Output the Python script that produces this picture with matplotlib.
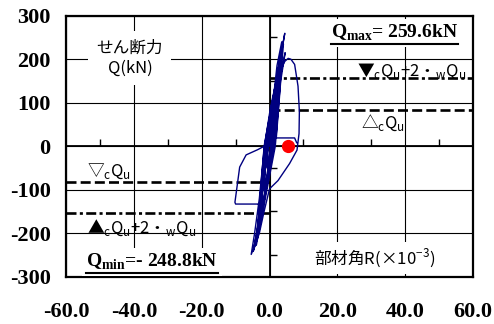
import matplotlib
matplotlib.use("Agg")
import matplotlib.pyplot as plt
from matplotlib.lines import Line2D
from matplotlib.transforms import IdentityTransform

plt.rcParams["axes.unicode_minus"] = False
plt.rcParams["lines.scale_dashes"] = False
plt.rcParams["mathtext.fontset"] = "custom"
plt.rcParams["mathtext.bf"] = "Liberation Serif:bold"
plt.rcParams["mathtext.sf"] = "Noto Sans CJK JP"
plt.rcParams["mathtext.rm"] = "Liberation Serif"

# 部材角 R (x10^-3) と せん断力 Q (kN) の履歴
r_hist = [0.0,
          0.9, 0.4, -0.7, -0.4,
          1.8, 0.8, -1.6, -0.8,
          2.7, 1.1, -2.4, -1.1,
          3.5, 1.4, -3.2, -1.4,
          4.1, 1.7, -3.9, -1.6,
          4.5, 3.2, 1.8, 0.6, -1.2, -3.0, -4.5, -5.4,
          -4.4, -3.0, -1.5, 0.3, 2.0, 3.6, 4.5, 5.5, 6.3, 7.4, 8.4, 8.8, 8.7, 8.1,
          5.9, 2.5, 0.0, -1.6, -3.0, -4.7,
          -3.6, -2.0, -0.4, 1.0, 2.2, 3.6,
          2.5, 1.0, -0.3, -3.5, -6.9, -8.8, -9.8, -10.2, -10.0, -2.5,
          -3.2, -4.2, -4.8, -3.8,
          -2.0, -0.3, 1.5, 3.2, 4.6, 3.3, 2.0, 7.4, 8.0]
q_hist = [0,
          50, 0, -50, 0,
          100, 0, -100, 0,
          150, 0, -150, 0,
          200, 0, -195, 0,
          235, 0, -228, 0,
          259.6, 200, 80, 0, -100, -180, -232, -248.8,
          -200, -120, 0, 90, 150, 180, 195, 202, 200, 188, 138, 80, 29, -9,
          -40, -79, -98, -150, -200, -238,
          -190, -100, 0, 100, 185, 240,
          175, 60, 5, -8, -20, -48, -106, -129, -133, -133,
          -175, -225, -242, -200,
          -90, 20, 90, 160, 215, 150, 19, 19, 8]

q_max = 259.6
q_min = -248.8
final_point = (5.4, 0.0)

# 耐力計算値
cqu_pos, cqu_neg = 83, -83
cqu_wqu_pos, cqu_wqu_neg = 157, -153

x_ticks = [-60, -40, -20, 0, 20, 40, 60]
y_ticks = [-300, -200, -100, 0, 100, 200, 300]
x_minor = [-50, -30, -10, 10, 30, 50]
y_minor = [-250, -150, -50, 50, 150, 250]

fig = plt.figure(figsize=(4.94, 3.24), dpi=100)
ax = fig.add_axes([0.1336, 0.146, 0.824, 0.8055])
ax.set_xlim(-60, 60)
ax.set_ylim(-300, 300)

ax.set_xticks(x_ticks)
ax.set_yticks(y_ticks)
ax.set_xticklabels([f"{v:.1f}" for v in x_ticks])
ax.set_yticklabels([f"{v:d}" for v in y_ticks])
ax.tick_params(length=0, labelsize=16)
ax.tick_params(axis="x", pad=18)
ax.tick_params(axis="y", pad=11)
for lbl in ax.get_xticklabels() + ax.get_yticklabels():
    lbl.set_family("Liberation Serif")
    lbl.set_fontweight("bold")

ax.grid(True, color="black", lw=0.8, zorder=0)
for sp in ax.spines.values():
    sp.set_linewidth(1.6)

ax.axhline(0, color="black", lw=1.3, zorder=1)
ax.axvline(0, color="black", lw=1.3, zorder=1)
ax.plot(x_minor, [0] * len(x_minor), ls="none", marker=2, ms=5, mew=1.0,
        color="black", zorder=1)
ax.plot([0] * len(y_minor), y_minor, ls="none", marker=1, ms=5, mew=1.0,
        color="black", zorder=1)

dash = (0, (7.2, 3.0))
dashdot = (0, (7.2, 2.4, 2.2, 2.4))
ax.hlines(cqu_wqu_pos, 0, 60, colors="black", lw=1.9, linestyles=dashdot, zorder=2)
ax.hlines(cqu_pos, 0, 60, colors="black", lw=1.9, linestyles=dash, zorder=2)
ax.hlines(cqu_neg, -60, 0, colors="black", lw=1.9, linestyles=dash, zorder=2)
ax.hlines(cqu_wqu_neg, -60, 0, colors="black", lw=1.9, linestyles=dashdot, zorder=2)

ax.plot(r_hist, q_hist, color="#000080", lw=1.0, zorder=3)
ax.plot(*final_point, "o", color="red", ms=8.5, zorder=4)

jp = "Noto Sans CJK JP"
white = dict(facecolor="white", edgecolor="none", pad=3)

ax.text(0.157, 0.838, "せん断力\nQ(kN)", transform=ax.transAxes, family=jp,
        fontsize=12, ha="center", va="center", multialignment="center",
        linespacing=1.25, bbox=dict(facecolor="white", edgecolor="none", pad=6),
        zorder=5)
ax.text(0.609, 0.072, r"部材角R(×10$^{\mathsf{-3}}$)", transform=ax.transAxes,
        family=jp, fontsize=12, ha="left", va="center", bbox=white, zorder=5)

sub = lambda s: r"$_{\mathsf{" + s + "}}$"
cqu = "▼" + sub("c") + "Q" + sub("u") + "+2・" + sub("w") + "Q" + sub("u")
ax.text(0.848, 0.788, cqu, transform=ax.transAxes, family=jp, fontsize=12,
        ha="center", va="center", zorder=5)
ax.text(0.779, 0.589, "△" + sub("c") + "Q" + sub("u"), transform=ax.transAxes,
        family=jp, fontsize=12, ha="center", va="center", zorder=5)
ax.text(0.052, 0.405, "▽" + sub("c") + "Q" + sub("u"), transform=ax.transAxes,
        family=jp, fontsize=12, ha="left", va="center", zorder=5)
ax.text(0.052, 0.187, cqu.replace("▼", "▲"), transform=ax.transAxes,
        family=jp, fontsize=12, ha="left", va="center", zorder=5)

t_max = ax.text(0.808, 0.934, r"Q$_{\mathbf{max}}$= " + f"{q_max:.1f}kN",
                transform=ax.transAxes, family="Liberation Serif",
                fontweight="bold", fontsize=14, ha="center", va="center",
                bbox=white, zorder=5)
t_min = ax.text(0.049, 0.056, r"Q$_{\mathbf{min}}$=- " + f"{abs(q_min):.1f}kN",
                transform=ax.transAxes, family="Liberation Serif",
                fontweight="bold", fontsize=14, ha="left", va="center",
                bbox=white, zorder=5)

# 最大・最小値に下線
fig.canvas.draw()
for t in (t_max, t_min):
    bb = t.get_window_extent()
    fig.add_artist(Line2D([bb.x0, bb.x1], [bb.y0 - 1, bb.y0 - 1], color="black",
                          lw=1.5, transform=IdentityTransform(), zorder=6))

fig.savefig("out.png", dpi=100)
